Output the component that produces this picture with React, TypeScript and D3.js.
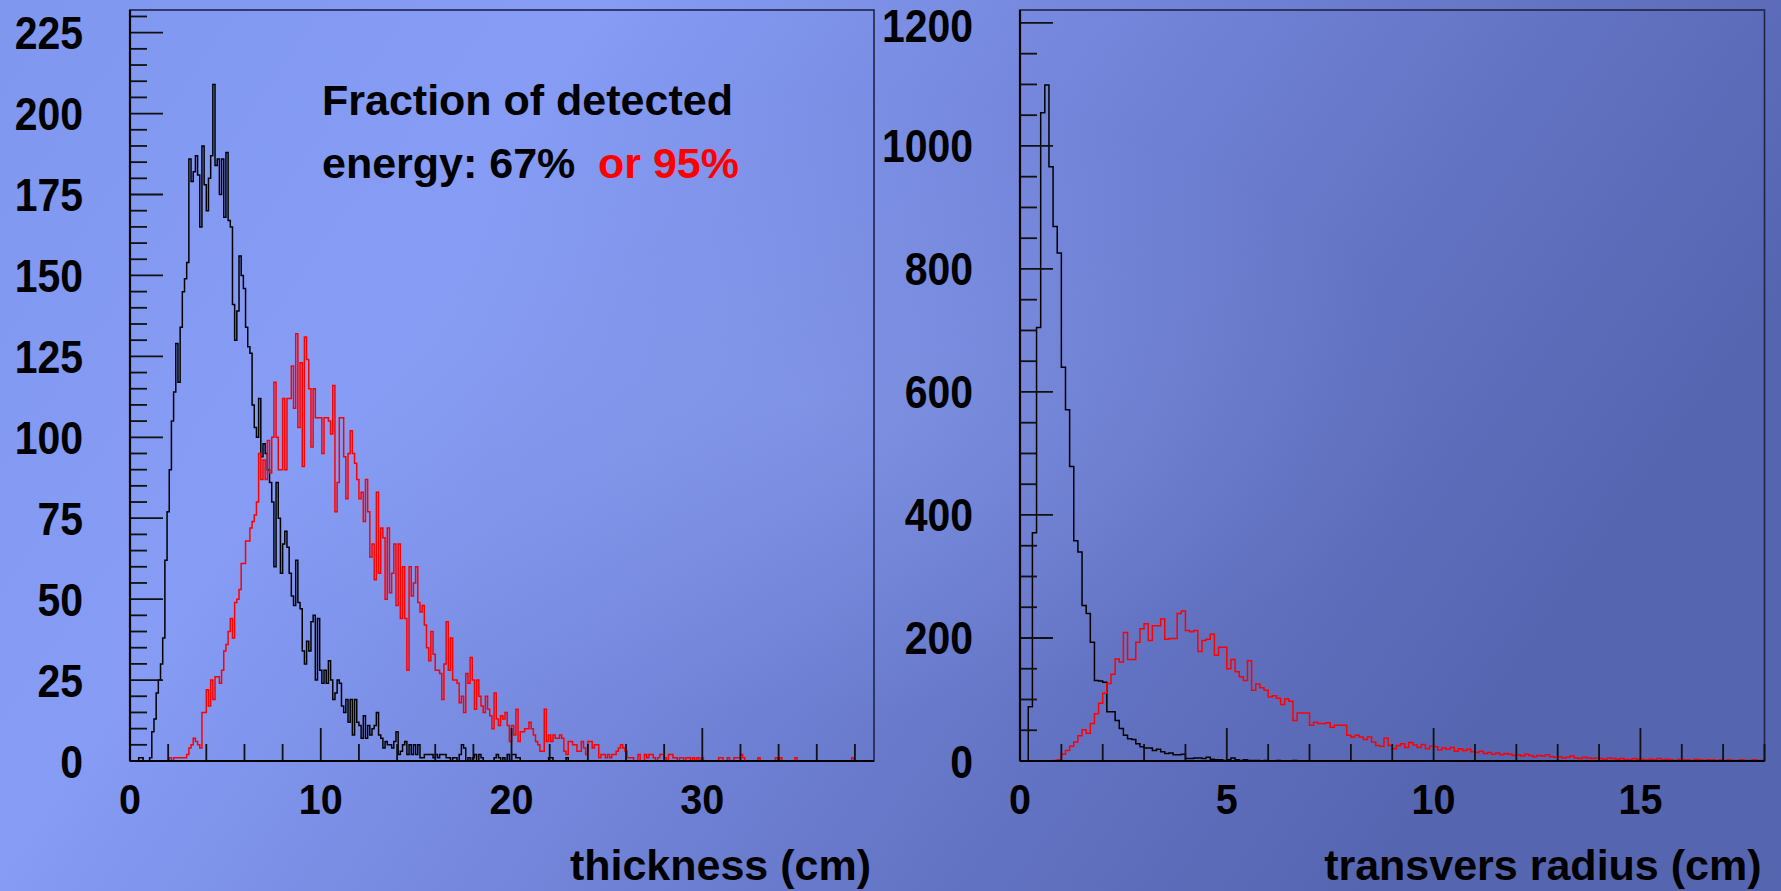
import { useEffect, useRef } from "react";
import * as d3 from "d3";

// ---- data ----
// thickness histogram, bins of 40/350 cm starting at 0
const thicknessBlack = [
  0, 0, 0, 0, 1, 1, 0, 0, 0, 1,
  9, 13, 21, 25, 30, 38, 62, 77, 90, 105,
  114, 129, 117, 134, 145, 149, 154, 186, 179, 182,
  187, 181, 165, 190, 178, 170, 180, 187, 209, 184,
  186, 175, 186, 168, 188, 167, 165, 141, 130, 139,
  156, 150, 146, 134, 128, 126, 110, 103, 100, 112,
  94, 98, 95, 90, 86, 80, 60, 86, 75, 58,
  67, 71, 66, 58, 51, 48, 62, 49, 47, 34,
  30, 37, 34, 43, 45, 25, 44, 28, 24, 28,
  24, 31, 25, 19, 21, 25, 24, 17, 15, 19,
  12, 19, 8, 19, 12, 11, 7, 14, 7, 11,
  8, 10, 11, 15, 8, 7, 4, 6, 5, 5,
  4, 6, 9, 2, 3, 5, 6, 2, 5, 2,
  5, 2, 5, 1, 1, 2, 2, 2, 2, 1,
  2, 1, 2, 2, 2, 1, 1, 0, 1, 1,
  0, 2, 5, 4, 0, 1, 0, 1, 2, 0,
  2, 1, 0, 0, 0, 0, 0, 1, 2, 1,
  0, 1, 0, 2, 0, 2, 2, 1, 1, 0,
  0, 0, 0, 0, 0, 0, 0, 0, 0, 0,
  0, 0, 1, 1, 0, 0, 0, 0, 0, 0,
  1,
];

const thicknessRed = [
  0, 0, 0, 0, 0, 0, 0, 0, 0, 0,
  0, 0, 0, 0, 0, 0, 0, 0, 1, 0,
  1, 1, 1, 1, 1, 1, 2, 4, 5, 7,
  6, 5, 4, 15, 15, 22, 17, 25, 19, 26,
  26, 24, 28, 34, 36, 40, 44, 38, 49, 50,
  53, 61, 61, 68, 68, 72, 74, 76, 80, 95,
  87, 93, 87, 99, 89, 100, 117, 100, 90, 90,
  112, 90, 112, 112, 122, 109, 132, 103, 123, 91,
  131, 124, 115, 97, 115, 106, 106, 106, 95, 106,
  106, 105, 101, 116, 77, 86, 106, 106, 94, 81,
  95, 102, 95, 92, 87, 81, 83, 74, 87, 77,
  63, 67, 56, 83, 58, 72, 69, 50, 72, 52,
  58, 67, 48, 67, 44, 60, 44, 28, 60, 51,
  55, 60, 49, 46, 48, 42, 35, 31, 40, 33,
  28, 28, 27, 19, 30, 43, 28, 38, 25, 25,
  24, 18, 20, 15, 27, 24, 32, 25, 16, 25,
  20, 17, 15, 20, 16, 14, 10, 21, 13, 11,
  14, 13, 15, 11, 6, 11, 8, 16, 6, 9,
  9, 10, 10, 12, 10, 8, 6, 5, 3, 3,
  16, 6, 8, 6, 8, 7, 7, 8, 7, 3,
  2, 6, 6, 5, 5, 3, 3, 6, 4, 2,
  6, 6, 4, 5, 5, 1, 2, 2, 1, 2,
  1, 2, 2, 3, 4, 5, 4, 3, 1, 1,
  1, 0, 0, 2, 0, 0, 2, 1, 2, 2,
  1, 0, 1, 2, 2, 1, 0, 2, 2, 1,
  1, 0, 1, 1, 0, 1, 1, 0, 1, 0,
  1, 0, 1, 0, 0, 0, 0, 0, 0, 0,
  1, 1, 0, 0, 1, 0, 0, 1, 1, 1,
  2, 1, 0, 0, 0, 0, 0, 0, 1, 0,
  0, 0, 0, 0, 0, 0, 1, 0, 1, 0,
  0, 0, 0, 0, 0, 1, 0, 0, 0, 0,
  0, 0, 0, 0, 0, 0, 0, 0, 0, 0,
  0, 0, 0, 0, 0, 0, 0, 0, 0, 0,
  0, 1, 0,
];

// transverse radius histogram, bins of 0.1 cm
const radiusBlack = [
  0, 0, 88, 371, 705, 1054, 1099, 966, 869, 826,
  640, 571, 479, 358, 340, 253, 240, 193, 131, 130,
  128, 80, 80, 66, 53, 42, 36, 35, 28, 23,
  21, 21, 17, 19, 15, 12, 13, 10, 10, 11,
  4, 4, 5, 5, 4, 6, 3, 2, 2, 1,
  2, 5, 2, 1, 2, 1, 1, 1, 0, 1,
  0, 0, 1, 0, 0, 0, 1, 0, 0, 0,
];

const radiusRed = [
  0, 0, 0, 0, 0, 0, 0, 0, 1, 2,
  11, 17, 24, 31, 41, 51, 45, 61, 77, 94,
  110, 126, 141, 166, 161, 209, 165, 165, 193, 215,
  223, 196, 220, 220, 231, 198, 199, 199, 240, 244,
  212, 210, 212, 178, 196, 198, 206, 172, 185, 185,
  150, 165, 145, 137, 131, 163, 115, 125, 119, 115,
  104, 106, 102, 92, 101, 97, 66, 78, 78, 78,
  58, 63, 61, 61, 62, 55, 58, 58, 58, 42,
  39, 42, 39, 35, 39, 31, 25, 24, 37, 25,
  20, 25, 28, 22, 30, 26, 22, 27, 20, 24,
  23, 18, 21, 19, 22, 16, 20, 17, 19, 15,
  14, 16, 12, 14, 11, 13, 10, 12, 11, 9,
  10, 8, 11, 9, 7, 9, 8, 10, 7, 6,
  7, 5, 6, 8, 5, 4, 6, 5, 4, 5,
  4, 3, 5, 4, 3, 4, 3, 2, 4, 3,
  3, 2, 3, 2, 4, 2, 3, 2, 1, 3,
  2, 2, 1, 3, 2, 1, 2, 2, 1, 2,
  1, 2, 1, 1, 2, 1, 1, 2, 1, 1,
];

const thicknessLabels = [0, 10, 20, 30];
const thicknessCountLabels = [0, 25, 50, 75, 100, 125, 150, 175, 200, 225];
const radiusLabels = [0, 5, 10, 15];
const radiusCountLabels = [0, 200, 400, 600, 800, 1000, 1200];

const FONT = "'Liberation Sans', Arial, Helvetica, sans-serif";

function drawPanel(svg, p) {
  const x = d3.scaleLinear().domain([0, p.xMax]).range([p.left, p.right]);
  const y = d3.scaleLinear().domain([0, p.yMax]).range([p.bottom, p.top]);

  const g = svg.append("g");

  // frame (top / right)
  g.append("rect")
    .attr("x", p.left)
    .attr("y", p.top)
    .attr("width", p.right - p.left)
    .attr("height", p.bottom - p.top)
    .attr("fill", "none")
    .attr("stroke", "#1e2545")
    .attr("stroke-width", 1.6);

  // histograms as step outlines
  const clipId = `clip-${p.id}`;
  svg
    .append("clipPath")
    .attr("id", clipId)
    .append("rect")
    .attr("x", p.left)
    .attr("y", p.top)
    .attr("width", p.right - p.left)
    .attr("height", p.bottom - p.top + 2);

  const line = d3
    .line()
    .x((d) => x(d[0]))
    .y((d) => y(d[1]))
    .curve(d3.curveStepAfter);

  const stepPoints = (vals) => {
    const pts = [[0, 0]];
    vals.forEach((v, i) => pts.push([i * p.binW, v]));
    const end = vals.length * p.binW;
    pts.push([end, vals[vals.length - 1]]);
    pts.push([end, 0]);
    return pts;
  };

  [
    [p.black, "#000000"],
    [p.red, "#ff0000"],
  ].forEach(([vals, color]) => {
    g.append("path")
      .attr("d", line(stepPoints(vals)))
      .attr("fill", "none")
      .attr("stroke", color)
      .attr("stroke-width", 1.5)
      .attr("clip-path", `url(#${clipId})`);
  });

  const isMajor = (v, step) => Math.abs(v / step - Math.round(v / step)) < 1e-6;

  // y ticks (inward)
  g.selectAll(".ytick")
    .data(d3.range(0, p.yMax + 1e-9, p.yMinor))
    .join("line")
    .attr("x1", p.left)
    .attr("x2", (d) => p.left + (isMajor(d, p.yMajor) ? 33 : 17))
    .attr("y1", (d) => y(d))
    .attr("y2", (d) => y(d))
    .attr("stroke", "#111")
    .attr("stroke-width", 1.8);

  // x ticks (inward)
  g.selectAll(".xtick")
    .data(d3.range(0, p.xMax + 1e-9, p.xMinor))
    .join("line")
    .attr("x1", (d) => x(d))
    .attr("x2", (d) => x(d))
    .attr("y1", p.bottom)
    .attr("y2", (d) => p.bottom - (isMajor(d, p.xMajor) ? 33 : 17))
    .attr("stroke", "#111")
    .attr("stroke-width", 1.8);

  // axis lines
  g.append("line")
    .attr("x1", p.left)
    .attr("x2", p.left)
    .attr("y1", p.top)
    .attr("y2", p.bottom)
    .attr("stroke", "#000")
    .attr("stroke-width", 2.2);
  g.append("line")
    .attr("x1", p.left)
    .attr("x2", p.right)
    .attr("y1", p.bottom)
    .attr("y2", p.bottom)
    .attr("stroke", "#000")
    .attr("stroke-width", 2.2);

  // tick labels (slightly condensed bold digits), kept inside the page
  g.selectAll(".ylab")
    .data(p.yLabels)
    .join("text")
    .attr(
      "transform",
      (d) => `translate(${p.left - 47},${Math.max(y(d) + 16.5, 42)}) scale(0.89,1)`
    )
    .attr("text-anchor", "end")
    .attr("font-family", FONT)
    .attr("font-weight", "bold")
    .attr("font-size", 46)
    .attr("fill", "#000")
    .text((d) => d);

  g.selectAll(".xlab")
    .data(p.xLabels)
    .join("text")
    .attr("transform", (d) => `translate(${x(d)},${p.bottom + 53}) scale(0.92,1)`)
    .attr("text-anchor", "middle")
    .attr("font-family", FONT)
    .attr("font-weight", "bold")
    .attr("font-size", 43)
    .attr("fill", "#000")
    .text((d) => d);

  // axis title
  g.append("text")
    .attr("x", p.right - 3)
    .attr("y", 880)
    .attr("text-anchor", "end")
    .attr("font-family", FONT)
    .attr("font-weight", "bold")
    .attr("font-size", 43)
    .attr("fill", "#000")
    .text(p.xTitle);
}

const App = () => {
  const svgRef = useRef(null);

  useEffect(() => {
    const svg = d3.select(svgRef.current);
    svg.selectAll("*").remove();

    // background
    const defs = svg.append("defs");
    const bg = defs
      .append("linearGradient")
      .attr("id", "bg")
      .attr("x1", 0)
      .attr("y1", 0)
      .attr("x2", 1)
      .attr("y2", 0.35);
    [
      [0, "#8097ef"],
      [0.3, "#869cf5"],
      [0.55, "#7487dc"],
      [0.8, "#6272c2"],
      [1, "#5665b0"],
    ].forEach(([o, c]) => bg.append("stop").attr("offset", o).attr("stop-color", c));

    const glow = defs
      .append("radialGradient")
      .attr("id", "glow")
      .attr("cx", 0.45)
      .attr("cy", 0.45)
      .attr("r", 0.35);
    glow.append("stop").attr("offset", 0).attr("stop-color", "#a0b4ff").attr("stop-opacity", 0.25);
    glow.append("stop").attr("offset", 1).attr("stop-color", "#a0b4ff").attr("stop-opacity", 0);

    svg.append("rect").attr("width", 1781).attr("height", 891).attr("fill", "url(#bg)");
    svg.append("rect").attr("width", 1781).attr("height", 891).attr("fill", "url(#glow)");

    drawPanel(svg, {
      id: "thick",
      left: 130,
      right: 874,
      top: 10,
      bottom: 761,
      xMax: 39,
      yMax: 232,
      binW: 40 / 350,
      black: thicknessBlack,
      red: thicknessRed,
      xMajor: 10,
      xMinor: 2,
      yMajor: 25,
      yMinor: 5,
      xLabels: thicknessLabels,
      yLabels: thicknessCountLabels,
      xTitle: "thickness (cm)",
    });

    drawPanel(svg, {
      id: "radius",
      left: 1020,
      right: 1764.5,
      top: 10,
      bottom: 761,
      xMax: 18,
      yMax: 1221,
      binW: 0.1,
      black: radiusBlack,
      red: radiusRed,
      xMajor: 5,
      xMinor: 1,
      yMajor: 200,
      yMinor: 50,
      xLabels: radiusLabels,
      yLabels: radiusCountLabels,
      xTitle: "transvers radius (cm)",
    });

    // annotation
    const note = svg
      .append("g")
      .attr("font-family", FONT)
      .attr("font-weight", "bold")
      .attr("font-size", 43);
    note.append("text").attr("x", 322).attr("y", 115).attr("fill", "#000").text("Fraction of detected");
    note.append("text").attr("x", 322).attr("y", 178).attr("fill", "#000").text("energy: 67%");
    note.append("text").attr("x", 598).attr("y", 178).attr("fill", "#ff0000").text("or 95%");
  }, []);

  return (
    <svg
      ref={svgRef}
      width={1781}
      height={891}
      style={{ position: "absolute", left: 0, top: 0, display: "block" }}
    ></svg>
  );
};

export default App;
